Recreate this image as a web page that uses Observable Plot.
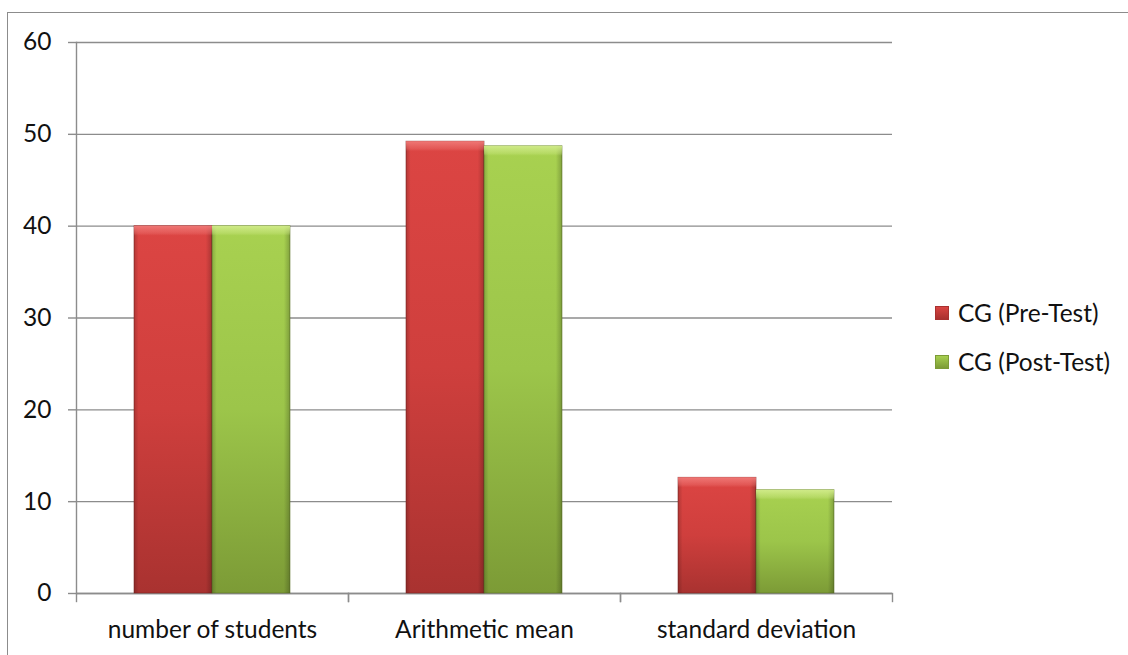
<!DOCTYPE html>
<html>
<head>
<meta charset="utf-8">
<script src="https://cdn.jsdelivr.net/npm/d3@7"></script>
<script src="https://cdn.jsdelivr.net/npm/@observablehq/plot@0.6"></script>
<style>
  html, body { margin: 0; padding: 0; background: #fff; }
  #wrap { position: relative; width: 1128px; height: 655px; overflow: hidden; font-family: Lato, "Open Sans", sans-serif; }
  #border { position: absolute; left: 7px; top: 12px; width: 1200px; height: 700px; border-left: 1.5px solid #8c8c8c; border-top: 1.5px solid #8c8c8c; }
  .legend { position: absolute; left: 935px; display: flex; align-items: center; font-size: 24.5px; color: #111; line-height: 1; }
  .sw { width: 14px; height: 14px; margin-right: 9px; box-sizing: border-box; }
</style>
</head>
<body>
<div id="wrap">
  <div id="border"></div>
  <div id="chart"></div>
  <div id="legend"></div>
</div>
<script>
// ---- data ----
const categories = ["number of students", "Arithmetic mean", "standard deviation"];
const series = ["CG (Pre-Test)", "CG (Post-Test)"];
const preValues = [40, 49.2, 12.6];
const postValues = [40, 48.7, 11.25];
const yTicks = [0, 10, 20, 30, 40, 50, 60];

const data = [];
categories.forEach((c, i) => {
  data.push({category: c, series: series[0], value: preValues[i]});
  data.push({category: c, series: series[1], value: postValues[i]});
});

const W = 1128, H = 655, mt = 42, mb = 62, ml = 76, mr = 236;
const plotH = H - mt - mb;
const grey = "#8c8c8c";
const fontSize = 24.5;

const chart = Plot.plot({
  width: W, height: H,
  marginTop: mt, marginBottom: mb, marginLeft: ml, marginRight: mr,
  style: {fontFamily: "Lato, 'Open Sans', sans-serif", fontSize: fontSize + "px", color: "#111", background: "transparent"},
  fx: {domain: categories, padding: 0, label: null, axis: "bottom", tickSize: 0, tickPadding: 27},
  x: {domain: series, paddingInner: 0, paddingOuter: 0.73, axis: null},
  y: {domain: [0, 60], axis: null},
  marks: [
    Plot.gridY(yTicks, {stroke: grey, strokeOpacity: 1, strokeWidth: 1.4}),
    Plot.axisY(yTicks, {anchor: "left", tickSize: 8, tickPadding: 17, stroke: grey, strokeWidth: 1.4, fill: "#111", fontSize: fontSize, label: null, tickFormat: d => String(d)}),
    Plot.frame({anchor: "left", fx: () => categories[0], stroke: grey, strokeWidth: 1.4}),
    Plot.frame({anchor: "left", stroke: grey, strokeWidth: 1.4, insetTop: plotH, insetBottom: -8}),
    Plot.frame({anchor: "right", stroke: grey, strokeWidth: 1.4, insetTop: plotH, insetBottom: -8}),
    Plot.ruleY([0], {stroke: grey, strokeWidth: 1.4}),
    Plot.barY(data, {fx: "category", x: "series", y: "value",
      fill: d => d.series === series[0] ? "url(#gPre)" : "url(#gPost)",
      stroke: d => d.series === series[0] ? "#7d2422" : "#5d7428", strokeWidth: 0.8, strokeOpacity: 0.7}),
    Plot.barY(data, {fx: "category", x: "series", y: "value", fill: "url(#gSide)"}),
    Plot.barY(data, {fx: "category", x: "series", y: "value",
      fill: d => d.series === series[0] ? "url(#gPreTop)" : "url(#gPostTop)"})
  ]
});

// gradients for the bevelled bars
const ns = "http://www.w3.org/2000/svg";
const defs = document.createElementNS(ns, "defs");
defs.innerHTML = `
  <linearGradient id="gPre" x1="0" y1="0" x2="0" y2="1">
    <stop offset="0" stop-color="#dc4543"/>
    <stop offset="0.5" stop-color="#cf3f3d"/>
    <stop offset="1" stop-color="#a93230"/>
  </linearGradient>
  <linearGradient id="gPost" x1="0" y1="0" x2="0" y2="1">
    <stop offset="0" stop-color="#a8d150"/>
    <stop offset="0.5" stop-color="#9cc54a"/>
    <stop offset="1" stop-color="#7c9b36"/>
  </linearGradient>
  <linearGradient id="gSide" x1="0" y1="0" x2="1" y2="0">
    <stop offset="0" stop-color="#000" stop-opacity="0.18"/>
    <stop offset="0.06" stop-color="#000" stop-opacity="0.0"/>
    <stop offset="0.92" stop-color="#000" stop-opacity="0.0"/>
    <stop offset="1" stop-color="#000" stop-opacity="0.22"/>
  </linearGradient>
`;
chart.insertBefore(defs, chart.firstChild);

// top bevel highlight: a short user-space gradient at the top of each bar
(function () {
  const groups = chart.querySelectorAll("g[aria-label='bar']");
  const last = groups[groups.length - 1];
  if (!last) return;
  let k = 0;
  last.querySelectorAll("rect").forEach(r => {
    const y = +r.getAttribute("y");
    const isPre = (r.getAttribute("fill") || "").includes("Pre");
    const id = "tb" + (k++);
    const g = document.createElementNS(ns, "linearGradient");
    g.setAttribute("id", id);
    g.setAttribute("gradientUnits", "userSpaceOnUse");
    g.setAttribute("x1", 0); g.setAttribute("x2", 0);
    g.setAttribute("y1", y); g.setAttribute("y2", y + 10);
    const c = isPre ? "#f07a78" : "#d2ec8c";
    g.innerHTML = `<stop offset="0" stop-color="${c}" stop-opacity="0.95"/>
      <stop offset="0.75" stop-color="${c}" stop-opacity="0.35"/>
      <stop offset="1" stop-color="${c}" stop-opacity="0"/>`;
    defs.appendChild(g);
    r.setAttribute("fill", `url(#${id})`);
  });
})();

document.getElementById("chart").appendChild(chart);
chart.style.position = "absolute";
chart.style.left = "0px";
chart.style.top = "0px";

// legend
const legendColors = [["#d94442", "#a83130"], ["#a6cf4f", "#7c9b36"]];
const legendTops = [301, 350];
const leg = document.getElementById("legend");
series.forEach((s, i) => {
  const item = document.createElement("div");
  item.className = "legend";
  item.style.top = legendTops[i] + "px";
  item.innerHTML = `<div class="sw" style="background:linear-gradient(${legendColors[i][0]}, ${legendColors[i][1]});border:1px solid ${legendColors[i][1]}"></div><span>${s}</span>`;
  leg.appendChild(item);
});
</script>
</body>
</html>
